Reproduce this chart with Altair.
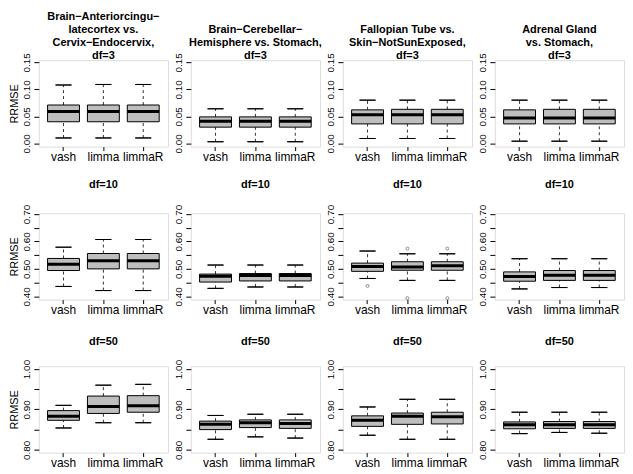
import altair as alt
import pandas as pd

methods = ["vash", "limma", "limmaR"]

panel_titles = [
    [["Brain−Anteriorcingu−", "latecortex vs.", "Cervix−Endocervix,", "df=3"],
     ["Brain−Cerebellar−", "Hemisphere vs. Stomach,", "df=3"],
     ["Fallopian Tube vs.", "Skin−NotSunExposed,", "df=3"],
     ["Adrenal Gland", "vs. Stomach,", "df=3"]],
    [["df=10"], ["df=10"], ["df=10"], ["df=10"]],
    [["df=50"], ["df=50"], ["df=50"], ["df=50"]],
]

# statistics [row][col][method]
whisk_lo = [
    [[0.010, 0.010, 0.010], [0.003, 0.003, 0.003], [0.009, 0.009, 0.009], [0.004, 0.004, 0.004]],
    [[0.436, 0.421, 0.421], [0.429, 0.434, 0.434], [0.465, 0.458, 0.458], [0.427, 0.432, 0.432]],
    [[0.854, 0.867, 0.867], [0.826, 0.832, 0.829], [0.836, 0.826, 0.826], [0.840, 0.843, 0.841]],
]
q1 = [
    [[0.040, 0.040, 0.040], [0.030, 0.030, 0.030], [0.036, 0.036, 0.036], [0.036, 0.036, 0.036]],
    [[0.494, 0.500, 0.500], [0.452, 0.456, 0.456], [0.491, 0.495, 0.495], [0.455, 0.458, 0.458]],
    [[0.873, 0.890, 0.893], [0.850, 0.855, 0.853], [0.858, 0.863, 0.864], [0.852, 0.853, 0.853]],
]
median = [
    [[0.059, 0.059, 0.059], [0.041, 0.041, 0.041], [0.053, 0.053, 0.053], [0.047, 0.047, 0.047]],
    [[0.517, 0.530, 0.530], [0.473, 0.476, 0.476], [0.509, 0.507, 0.511], [0.472, 0.477, 0.477]],
    [[0.883, 0.907, 0.909], [0.863, 0.867, 0.865], [0.873, 0.883, 0.882], [0.862, 0.862, 0.862]],
]
q3 = [
    [[0.071, 0.071, 0.071], [0.049, 0.049, 0.049], [0.062, 0.063, 0.063], [0.062, 0.063, 0.063]],
    [[0.538, 0.556, 0.556], [0.481, 0.483, 0.483], [0.521, 0.526, 0.526], [0.489, 0.494, 0.494]],
    [[0.897, 0.933, 0.934], [0.871, 0.874, 0.874], [0.884, 0.891, 0.893], [0.869, 0.870, 0.870]],
]
whisk_hi = [
    [[0.108, 0.109, 0.109], [0.064, 0.064, 0.064], [0.080, 0.080, 0.080], [0.080, 0.080, 0.080]],
    [[0.579, 0.607, 0.607], [0.514, 0.514, 0.514], [0.565, 0.555, 0.555], [0.537, 0.537, 0.537]],
    [[0.910, 0.960, 0.962], [0.885, 0.888, 0.888], [0.906, 0.925, 0.925], [0.893, 0.893, 0.893]],
]
# outliers: (row, col, method, value)
outliers = [
    (1, 2, "vash", 0.438),
    (1, 2, "limma", 0.574), (1, 2, "limma", 0.393),
    (1, 2, "limmaR", 0.574), (1, 2, "limmaR", 0.393),
]

y_domains = [[-0.006, 0.154], [0.388, 0.703], [0.793, 1.007]]
y_ticks = [
    [0.00, 0.05, 0.10, 0.15],
    [0.40, 0.45, 0.50, 0.55, 0.60, 0.65, 0.70],
    [0.80, 0.85, 0.90, 0.95, 1.00],
]
title_offsets = [-8, 14, 12]

FONT = "Liberation Sans"


def panel(r, c):
    df = pd.DataFrame({
        "method": methods,
        "lo": whisk_lo[r][c],
        "q1": q1[r][c],
        "med": median[r][c],
        "q3": q3[r][c],
        "hi": whisk_hi[r][c],
    })
    xenc = alt.X(
        "method:N", sort=methods,
        scale=alt.Scale(paddingInner=0, paddingOuter=0.12),
        axis=alt.Axis(title=None, labelAngle=0, labelFontSize=12, tickSize=4,
                      domain=False, labelPadding=1, tickColor="black",
                      labelColor="black", labelFont=FONT),
    )
    show_all = "true" if r == 0 else "false"
    label_expr = ("(round(datum.value*100) % 10 == 0) || " + show_all +
                  " ? format(datum.value, '.2f') : ''")
    axis_kw = dict(
        values=y_ticks[r],
        labelExpr=label_expr,
        labelAngle=270, labelAlign="center", labelBaseline="bottom",
        labelFontSize=10, labelPadding=2, tickSize=5, domain=False,
        tickColor="black", labelColor="black", labelOverlap=False,
        labelFlush=False, grid=False, labelFont=FONT,
    )
    if c == 0:
        axis_kw.update(title="RRMSE", titleFontSize=11, titleFontWeight="normal",
                       titlePadding=2, titleColor="black", titleFont=FONT)
    else:
        axis_kw.update(title=None)
    yscale = alt.Scale(domain=y_domains[r], nice=False, zero=False)

    def Y(field):
        return alt.Y(field + ":Q", scale=yscale, axis=alt.Axis(**axis_kw))

    base = alt.Chart(df)
    w_lo = base.mark_rule(color="#333333", strokeWidth=1, strokeDash=[3, 3]).encode(
        x=xenc, y=Y("lo"), y2="q1:Q")
    w_hi = base.mark_rule(color="#333333", strokeWidth=1, strokeDash=[3, 3]).encode(
        x=xenc, y=Y("q3"), y2="hi:Q")
    box = base.mark_bar(width=alt.RelativeBandSize(0.8), fill="#BEBEBE",
                        stroke="black", strokeWidth=1).encode(
        x=xenc, y=Y("q1"), y2="q3:Q")
    med = base.mark_bar(width=alt.RelativeBandSize(0.8), fill="black",
                        stroke="black", strokeWidth=3).encode(
        x=xenc, y=Y("med"), y2="med:Q")
    cap_lo = base.mark_bar(width=alt.RelativeBandSize(0.4), fill="black",
                           stroke="black", strokeWidth=1).encode(
        x=xenc, y=Y("lo"), y2="lo:Q")
    cap_hi = base.mark_bar(width=alt.RelativeBandSize(0.4), fill="black",
                           stroke="black", strokeWidth=1).encode(
        x=xenc, y=Y("hi"), y2="hi:Q")
    layers = [w_lo, w_hi, box, med, cap_lo, cap_hi]

    pts = [(m, v) for (rr, cc, m, v) in outliers if rr == r and cc == c]
    if pts:
        odf = pd.DataFrame({"method": [p[0] for p in pts], "val": [p[1] for p in pts]})
        layers.append(alt.Chart(odf).mark_point(shape="circle", filled=False, size=9,
                                                color="black", strokeWidth=0.6).encode(
            x=xenc, y=Y("val")))

    return alt.layer(*layers).properties(
        width=130, height=87,
        title=alt.TitleParams(text=panel_titles[r][c], fontSize=11, fontWeight="bold",
                              font=FONT, lineHeight=13, offset=title_offsets[r],
                              anchor="middle", color="black"),
    )


panels = [panel(r, c) for r in range(3) for c in range(4)]

chart = alt.concat(*panels, columns=4, spacing={"row": 67, "column": 23},
                   bounds="flush").properties(
    padding={"left": 0, "top": 0, "right": 0, "bottom": 0}
).configure_view(stroke="black", strokeWidth=1, fill="white").configure(
    font=FONT, background="white")

chart.save("out.html", embed_options={"renderer": "svg", "actions": False})
